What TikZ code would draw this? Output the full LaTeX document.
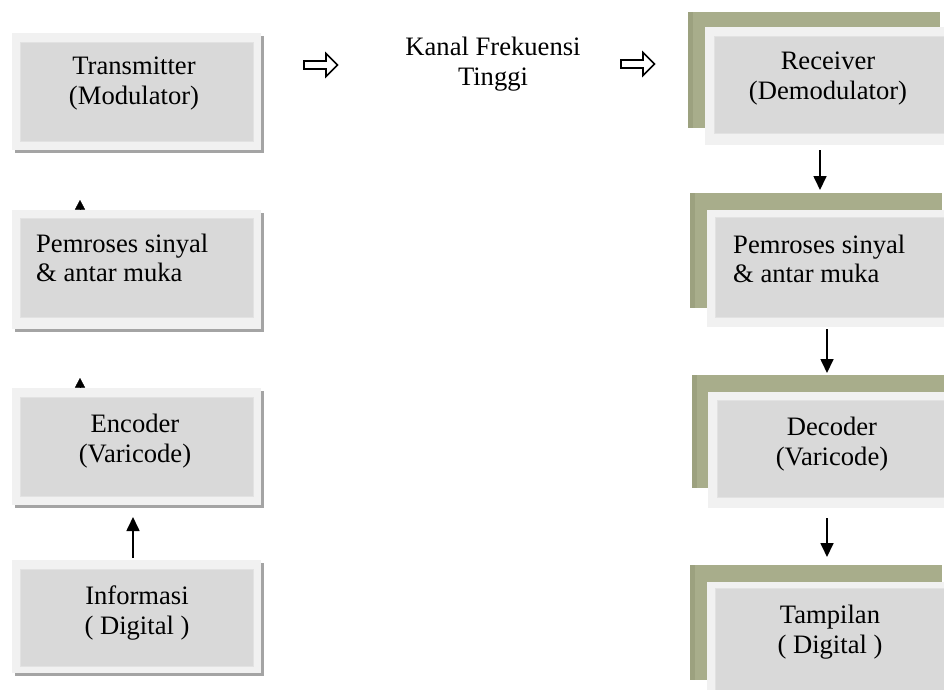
\documentclass[tikz,border=0pt]{standalone}
\usepackage{fontspec}
\setmainfont{Liberation Serif}
\usetikzlibrary{arrows.meta}
\definecolor{frameC}{HTML}{F1F1F1}
\definecolor{innerC}{HTML}{D9D9D9}
\definecolor{innerE}{HTML}{E2E2E2}
\definecolor{shadC}{HTML}{A4A4A4}
\definecolor{oliveC}{HTML}{A8AD8B}
\definecolor{oliveD}{HTML}{9CA17F}
\begin{document}
\begin{tikzpicture}[x=1pt,y=-1pt,
  inbox/.style={fill=innerC, draw=innerE, line width=1pt, inner sep=0pt, anchor=north west},
  framebox/.style={fill=frameC, draw=none, inner sep=0pt, anchor=north west},
  txt/.style={font=\fontsize{26.6}{30}\selectfont, inner sep=0pt, align=center, anchor=north},
  txtl/.style={font=\fontsize{26.6}{28.5}\selectfont, inner sep=0pt, align=left, anchor=north west},
  bigarrow/.style={line width=1.7pt, -{Triangle[length=14pt,width=13pt]}},
  headonly/.style={line width=0.3pt, -{Triangle[length=9.5pt,width=10pt]}},
  hollow/.style={draw=black, line width=1.6pt, fill=white, line join=miter}
]
\useasboundingbox (0,0) rectangle (944,689);
\fill[white] (0,0) rectangle (944,689);
\clip (0,0) rectangle (944,689);

% ---------- left column ----------
\fill[shadC] (15,36) rectangle (264,153);
\node[framebox, minimum width=249pt, minimum height=117pt] (L1f) at (12,33) {};
\node[inbox, minimum width=233pt, minimum height=99pt] (L1) at (20,42) {};
\fill[shadC] (15,213) rectangle (264,332);
\node[framebox, minimum width=249pt, minimum height=119pt] (L2f) at (12,210) {};
\node[inbox, minimum width=233pt, minimum height=99pt] (L2) at (20,218) {};
\fill[shadC] (15,391) rectangle (264,508);
\node[framebox, minimum width=249pt, minimum height=117pt] (L3f) at (12,388) {};
\node[inbox, minimum width=233pt, minimum height=99pt] (L3) at (20,397) {};
\fill[shadC] (15,563) rectangle (264,676);
\node[framebox, minimum width=249pt, minimum height=113pt] (L4f) at (12,560) {};
\node[inbox, minimum width=233pt, minimum height=97pt] (L4) at (20,569) {};

\node[txt] (T1) at (134,57) {Transmitter\\(Modulator)};
\node[txtl] (T2) at (36,234) {Pemroses sinyal\\\& antar muka};
\node[txt] (T3) at (135,414) {Encoder\\(Varicode)};
\node[txt] (T4) at (137,586) {Informasi\\( Digital )};

% ---------- right column ----------
\fill[oliveC] (688,12) rectangle (940,128);
\fill[oliveD] (688,12) rectangle (693,128);
\node[framebox, minimum width=250pt, minimum height=118pt] (R1f) at (705,27) {};
\node[inbox, minimum width=236pt, minimum height=97pt] (R1) at (714,36) {};
\fill[oliveC] (690,193) rectangle (942,308);
\fill[oliveD] (690,193) rectangle (695,308);
\node[framebox, minimum width=250pt, minimum height=117pt] (R2f) at (707,210) {};
\node[inbox, minimum width=236pt, minimum height=100pt] (R2) at (715,217) {};
\fill[oliveC] (692,375) rectangle (944,488);
\fill[oliveD] (692,375) rectangle (697,488);
\node[framebox, minimum width=250pt, minimum height=116pt] (R3f) at (708,392) {};
\node[inbox, minimum width=236pt, minimum height=97pt] (R3) at (717,400) {};
\fill[oliveC] (690,565) rectangle (942,680);
\fill[oliveD] (690,565) rectangle (695,680);
\node[framebox, minimum width=250pt, minimum height=120pt] (R4f) at (707,582) {};
\node[inbox, minimum width=236pt, minimum height=110pt] (R4) at (715,588) {};

\node[txt] (U1) at (828,52) {Receiver\\(Demodulator)};
\node[txtl] (U2) at (733,235) {Pemroses sinyal\\\& antar muka};
\node[txt] (U3) at (832,417) {Decoder\\(Varicode)};
\node[txt] (U4) at (830,605) {Tampilan\\( Digital )};

\node[txt] (K) at (493,37) {Kanal Frekuensi\\Tinggi};

% ---------- connectors ----------
\coordinate (h1a) at (304,65);
\draw[hollow] (h1a) ++(0,-4) -- ++(22,0) -- ++(0,-7.5) -- ++(11.5,11.5) -- ++(-11.5,11.5) -- ++(0,-7.5) -- ++(-22,0) -- cycle;
\coordinate (h2a) at (621,64);
\draw[hollow] (h2a) ++(0,-4) -- ++(22,0) -- ++(0,-7.5) -- ++(11.5,11.5) -- ++(-11.5,11.5) -- ++(0,-7.5) -- ++(-22,0) -- cycle;

\coordinate (a1s) at (820,150);
\coordinate (a1e) at (820,190);
\draw[bigarrow] (a1s) -- (a1e);
\coordinate (a2s) at (827,329);
\coordinate (a2e) at (827,373);
\draw[bigarrow] (a2s) -- (a2e);
\coordinate (a3s) at (827,518);
\coordinate (a3e) at (827,557);
\draw[bigarrow] (a3s) -- (a3e);

\coordinate (a4s) at (133,558);
\coordinate (a4e) at (133,517);
\draw[bigarrow] (a4s) -- (a4e);

\coordinate (s1s) at (80,209.5);
\coordinate (s1e) at (80,200);
\draw[headonly] (s1s) -- (s1e);
\coordinate (s2s) at (80,387.5);
\coordinate (s2e) at (80,378);
\draw[headonly] (s2s) -- (s2e);
\end{tikzpicture}
\end{document}
